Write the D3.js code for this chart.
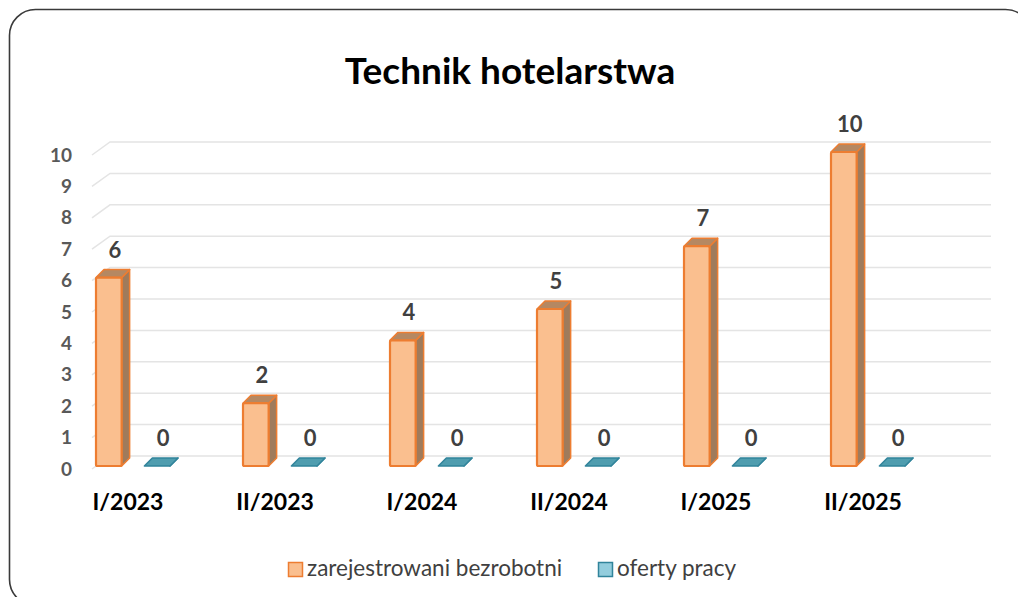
<!DOCTYPE html>
<html>
<head>
<meta charset="utf-8">
<script src="https://cdn.jsdelivr.net/npm/d3@7"></script>
<style>
  body { margin: 0; background: #fff; }
  svg { display: block; font-family: Lato, "Open Sans", sans-serif; }
</style>
</head>
<body>
<svg id="chart" width="1018" height="597"></svg>
<script>
// data
var categories = ["I/2023", "II/2023", "I/2024", "II/2024", "I/2025", "II/2025"];
var seriesNames = ["zarejestrowani bezrobotni", "oferty pracy"];
var unemployed = [6, 2, 4, 5, 7, 10];
var offers = [0, 0, 0, 0, 0, 0];
var yTicks = [0, 1, 2, 3, 4, 5, 6, 7, 8, 9, 10];

var svg = d3.select("#chart");

// frame
svg.append("rect")
  .attr("x", 9.5).attr("y", 9.5)
  .attr("width", 1022).attr("height", 596)
  .attr("rx", 26)
  .attr("fill", "#fff")
  .attr("stroke", "#3a3a3a")
  .attr("stroke-width", 1.6);

svg.append("text")
  .attr("x", 510).attr("y", 84)
  .attr("text-anchor", "middle")
  .attr("font-size", 37).attr("font-weight", "bold")
  .attr("fill", "#000")
  .text("Technik hotelarstwa");

var x = d3.scaleBand().domain(categories).range([92, 974]);
var x1 = d3.scaleBand().domain(seriesNames).range([4, 78]).paddingInner(0.47);
var y = d3.scaleLinear().domain([0, 10]).range([469, 155]);

// wall depth and bar depth (fake 3d)
var wdx = 18, wdy = -13;
var bdx = 8, bdy = -8;
var barShift = -3;

// gridlines
svg.append("g").selectAll("path")
  .data(yTicks)
  .join("path")
  .attr("d", function (d) {
    return "M92," + y(d) + "L" + (92 + wdx) + "," + (y(d) + wdy) + "L991," + (y(d) + wdy);
  })
  .attr("fill", "none")
  .attr("stroke", "#e4e4e4")
  .attr("stroke-width", 1.5);

// y axis labels
var yAxis = svg.append("g")
  .attr("transform", "translate(72,0)")
  .call(d3.axisLeft(y).tickValues(yTicks).tickSize(0).tickPadding(0).tickFormat(d3.format("d")));
yAxis.select(".domain").remove();
yAxis.selectAll("text")
  .attr("font-family", "Lato, sans-serif")
  .attr("font-size", 19).attr("font-weight", "bold")
  .attr("fill", "#595959");

var styles = {
  "zarejestrowani bezrobotni": { front: "#fabf8f", side: "#9f7b5c", top: "#b58862", stroke: "#ed7d31" },
  "oferty pracy": { front: "#4bacc6", side: "#3e8d9e", top: "#4f9daf", stroke: "#31849b" }
};

var bars = [];
categories.forEach(function (c, i) {
  bars.push({ cat: c, s: seriesNames[0], v: unemployed[i] });
  bars.push({ cat: c, s: seriesNames[1], v: offers[i] });
});

var g = svg.append("g").selectAll("g")
  .data(bars)
  .join("g");

g.each(function (d) {
  var el = d3.select(this);
  var st = styles[d.s];
  var x0 = x(d.cat) + x1(d.s);
  var w = x1.bandwidth();
  var yb = y(0) + barShift;
  var yt = y(d.v) + barShift;
  // side face
  el.append("path")
    .attr("d", "M" + (x0 + w) + "," + yb + "L" + (x0 + w + bdx) + "," + (yb + bdy) +
      "L" + (x0 + w + bdx) + "," + (yt + bdy) + "L" + (x0 + w) + "," + yt + "Z")
    .attr("fill", st.side).attr("stroke", st.stroke).attr("stroke-width", 1.5)
    .attr("stroke-linejoin", "round");
  // top face
  el.append("path")
    .attr("d", "M" + x0 + "," + yt + "L" + (x0 + bdx) + "," + (yt + bdy) +
      "L" + (x0 + w + bdx) + "," + (yt + bdy) + "L" + (x0 + w) + "," + yt + "Z")
    .attr("fill", st.top).attr("stroke", st.stroke).attr("stroke-width", 1.5)
    .attr("stroke-linejoin", "round");
  // front face
  if (d.v > 0) {
    el.append("rect")
      .attr("x", x0).attr("y", yt)
      .attr("width", w).attr("height", yb - yt)
      .attr("fill", st.front).attr("stroke", st.stroke).attr("stroke-width", 2.2)
      .attr("rx", 1.5);
  }
  // value label
  el.append("text")
    .attr("x", x0 + w / 2 + 6)
    .attr("y", yt + bdy - 12)
    .attr("text-anchor", "middle")
    .attr("font-size", 22).attr("font-weight", "bold")
    .attr("fill", "#404040")
    .text(d.v);
});

// category labels
svg.append("g").selectAll("text")
  .data(categories)
  .join("text")
  .attr("x", function (d) { return x(d) + 36; })
  .attr("y", 510)
  .attr("text-anchor", "middle")
  .attr("font-size", 23).attr("font-weight", "bold")
  .attr("fill", "#000")
  .text(function (d) { return d; });

// legend
var legendX = [288, 598];
var legend = svg.append("g").selectAll("g")
  .data(seriesNames)
  .join("g")
  .attr("transform", function (d, i) { return "translate(" + legendX[i] + ",562)"; });
legend.append("rect")
  .attr("x", 0.5).attr("y", 0.5)
  .attr("width", 14).attr("height", 14)
  .attr("fill", function (d, i) { return i == 0 ? "#fabf8f" : "#93cddd"; })
  .attr("stroke", function (d) { return styles[d].stroke; })
  .attr("stroke-width", 1.5);
legend.append("text")
  .attr("x", 19).attr("y", 14)
  .attr("font-size", 22.5)
  .attr("fill", "#404040")
  .text(function (d) { return d; });
</script>
</body>
</html>
